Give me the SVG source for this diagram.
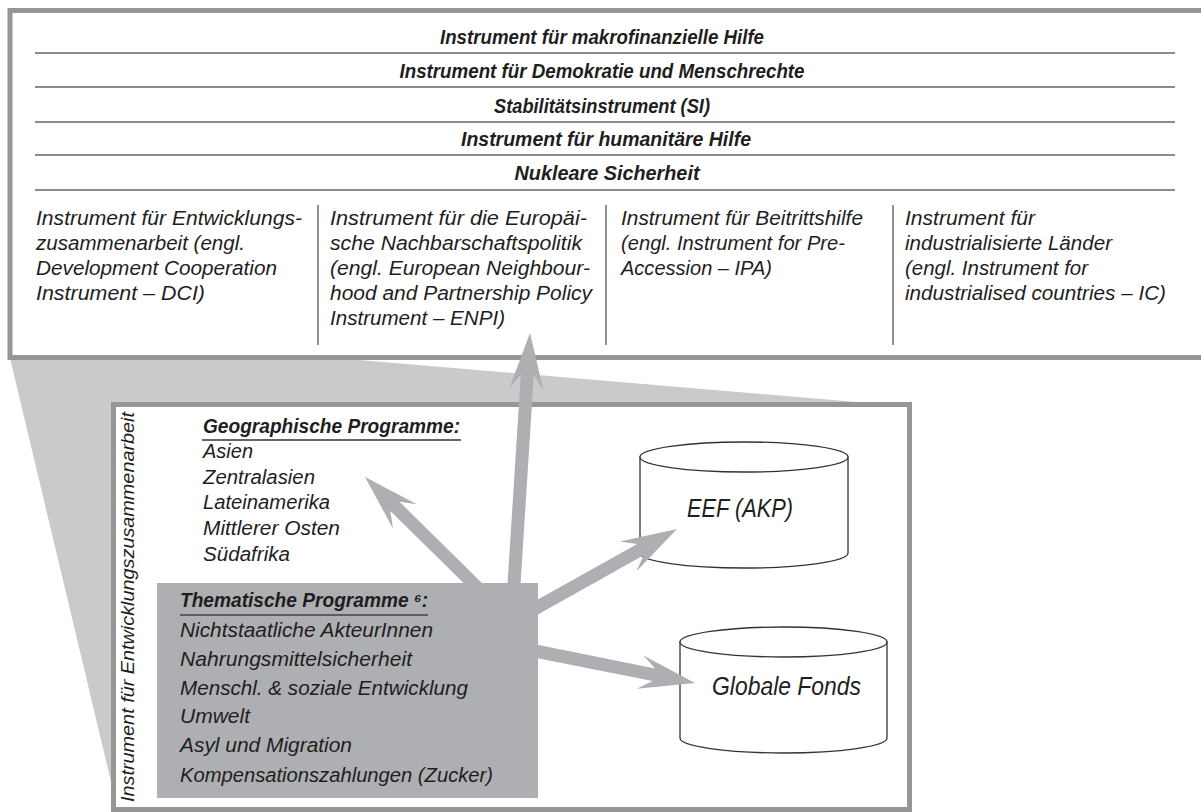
<svg xmlns="http://www.w3.org/2000/svg" width="1201" height="812" viewBox="0 0 1201 812">
<style>
.t{font-family:"Liberation Sans",Arial,sans-serif;font-style:italic;fill:#1e1e1e;}
.h{font-size:19.5px;font-weight:bold;text-anchor:middle;}
.c{font-size:20px;}
.g{font-size:20px;}
.b{font-weight:bold;}
.rl{stroke:#8c8c8c;stroke-width:2.2;}
.dv{stroke:#555;stroke-width:1.3;}
.frame{fill:#fff;stroke:#969696;stroke-width:5;}
.cyl{fill:#fff;stroke:#333;stroke-width:1.3;}
.arr{fill:#aeafb2;}
</style>
<rect width="1201" height="812" fill="#fff"/>
<polygon id="funnel" points="10,358 335,358 880,404 113,404 113,790" fill="#c9cacc"/>
<g id="top-box">
<rect class="frame" x="10" y="10.5" width="1200" height="347"/>
<line class="rl" x1="35" y1="53" x2="1175" y2="53"/>
<line class="rl" x1="35" y1="87" x2="1175" y2="87"/>
<line class="rl" x1="35" y1="122" x2="1175" y2="122"/>
<line class="rl" x1="35" y1="155" x2="1175" y2="155"/>
<line class="rl" x1="35" y1="190" x2="1175" y2="190"/>
<text class="t h" x="602" y="44" textLength="324" lengthAdjust="spacingAndGlyphs">Instrument für makrofinanzielle Hilfe</text>
<text class="t h" x="602" y="78" textLength="405" lengthAdjust="spacingAndGlyphs">Instrument für Demokratie und Menschrechte</text>
<text class="t h" x="602" y="113" textLength="216" lengthAdjust="spacingAndGlyphs">Stabilitätsinstrument (SI)</text>
<text class="t h" x="606" y="146" textLength="290" lengthAdjust="spacingAndGlyphs">Instrument für humanitäre Hilfe</text>
<text class="t h" x="607" y="180" textLength="185" lengthAdjust="spacingAndGlyphs">Nukleare Sicherheit</text>
<line class="dv" x1="318" y1="205" x2="318" y2="345"/>
<line class="dv" x1="606" y1="205" x2="606" y2="345"/>
<line class="dv" x1="893" y1="205" x2="893" y2="345"/>
</g>
<g id="col-dci">
<text class="t c" x="36" y="225" textLength="266" lengthAdjust="spacingAndGlyphs">Instrument für Entwicklungs-</text>
<text class="t c" x="36" y="250" textLength="209" lengthAdjust="spacingAndGlyphs">zusammenarbeit (engl.</text>
<text class="t c" x="36" y="275" textLength="241" lengthAdjust="spacingAndGlyphs">Development Cooperation</text>
<text class="t c" x="36" y="300" textLength="169" lengthAdjust="spacingAndGlyphs">Instrument – DCI)</text>
</g>
<g id="col-enpi">
<text class="t c" x="330" y="225" textLength="257" lengthAdjust="spacingAndGlyphs">Instrument für die Europäi-</text>
<text class="t c" x="330" y="250" textLength="252" lengthAdjust="spacingAndGlyphs">sche Nachbarschaftspolitik</text>
<text class="t c" x="330" y="275" textLength="260" lengthAdjust="spacingAndGlyphs">(engl. European Neighbour-</text>
<text class="t c" x="330" y="300" textLength="262" lengthAdjust="spacingAndGlyphs">hood and Partnership Policy</text>
<text class="t c" x="330" y="325" textLength="175" lengthAdjust="spacingAndGlyphs">Instrument – ENPI)</text>
</g>
<g id="col-ipa">
<text class="t c" x="621" y="225" textLength="242" lengthAdjust="spacingAndGlyphs">Instrument für Beitrittshilfe</text>
<text class="t c" x="621" y="250" textLength="224" lengthAdjust="spacingAndGlyphs">(engl. Instrument for Pre-</text>
<text class="t c" x="621" y="275" textLength="151" lengthAdjust="spacingAndGlyphs">Accession – IPA)</text>
</g>
<g id="col-ic">
<text class="t c" x="905" y="225" textLength="130" lengthAdjust="spacingAndGlyphs">Instrument für</text>
<text class="t c" x="905" y="250" textLength="207" lengthAdjust="spacingAndGlyphs">industrialisierte Länder</text>
<text class="t c" x="905" y="275" textLength="183" lengthAdjust="spacingAndGlyphs">(engl. Instrument for</text>
<text class="t c" x="905" y="300" textLength="261" lengthAdjust="spacingAndGlyphs">industrialised countries – IC)</text>
</g>
<g id="dci-box">
<rect class="frame" x="113.5" y="404.5" width="796" height="405"/>
<text class="t" font-size="19" transform="translate(134,802) rotate(-90)" textLength="390" lengthAdjust="spacingAndGlyphs">Instrument für Entwicklungszusammenarbeit</text>
</g>
<g id="geo">
<text class="t g b" x="203" y="433" textLength="257" lengthAdjust="spacingAndGlyphs">Geographische Programme:</text>
<line x1="202" y1="440" x2="461" y2="440" stroke="#333" stroke-width="1.6"/>
<text class="t g" x="203" y="458" textLength="50" lengthAdjust="spacingAndGlyphs">Asien</text>
<text class="t g" x="203" y="484" textLength="112" lengthAdjust="spacingAndGlyphs">Zentralasien</text>
<text class="t g" x="203" y="509" textLength="127" lengthAdjust="spacingAndGlyphs">Lateinamerika</text>
<text class="t g" x="203" y="535" textLength="137" lengthAdjust="spacingAndGlyphs">Mittlerer Osten</text>
<text class="t g" x="203" y="561" textLength="87" lengthAdjust="spacingAndGlyphs">Südafrika</text>
</g>
<g id="thematic">
<rect x="157" y="583" width="381" height="215" fill="#aeafb2"/>
<text class="t g b" x="180" y="607" textLength="248" lengthAdjust="spacingAndGlyphs">Thematische Programme ⁶:</text>
<line x1="180" y1="615" x2="428" y2="615" stroke="#444" stroke-width="1.6"/>
<text class="t g" x="180" y="637" textLength="253" lengthAdjust="spacingAndGlyphs">Nichtstaatliche AkteurInnen</text>
<text class="t g" x="180" y="666" textLength="232" lengthAdjust="spacingAndGlyphs">Nahrungsmittelsicherheit</text>
<text class="t g" x="180" y="695" textLength="288" lengthAdjust="spacingAndGlyphs">Menschl. &amp; soziale Entwicklung</text>
<text class="t g" x="180" y="723" textLength="70" lengthAdjust="spacingAndGlyphs">Umwelt</text>
<text class="t g" x="180" y="752" textLength="172" lengthAdjust="spacingAndGlyphs">Asyl und Migration</text>
<text class="t g" x="180" y="782" textLength="313" lengthAdjust="spacingAndGlyphs">Kompensationszahlungen (Zucker)</text>
</g>
<g id="eef">
<path class="cyl" d="M640,457 L640,553 A104,15 0 0 0 848,553 L848,457 Z"/>
<ellipse class="cyl" cx="744" cy="457" rx="104" ry="15"/>
<text class="t" font-size="26" x="687" y="517" textLength="106" lengthAdjust="spacingAndGlyphs">EEF (AKP)</text>
</g>
<g id="globale-fonds">
<path class="cyl" d="M680,642 L680,738 A103.5,15 0 0 0 887,738 L887,642 Z"/>
<ellipse class="cyl" cx="783.5" cy="642" rx="103.5" ry="15"/>
<text class="t" font-size="25" x="712" y="695" textLength="149" lengthAdjust="spacingAndGlyphs">Globale Fonds</text>
</g>
<g id="connectors">
<polygon class="arr" points="519.5,600.4 533.8,375.3 543.4,390 530,333 509.5,387.8 520.8,374.5 506.5,599.6"/>
<polygon class="arr" points="494.6,595.4 399.5,501.8 416.8,504.2 365,477 393,528.4 390.4,511.1 485.4,604.6"/>
<polygon class="arr" points="523.2,622.7 643.6,555.2 636.5,571.2 677,529 619.9,541.6 637.2,543.9 516.8,611.3"/>
<polygon class="arr" points="518.7,654.4 652.6,681.1 636.8,688.7 695,683 643.4,655.4 655.1,668.4 521.3,641.6"/>
</g>
</svg>
